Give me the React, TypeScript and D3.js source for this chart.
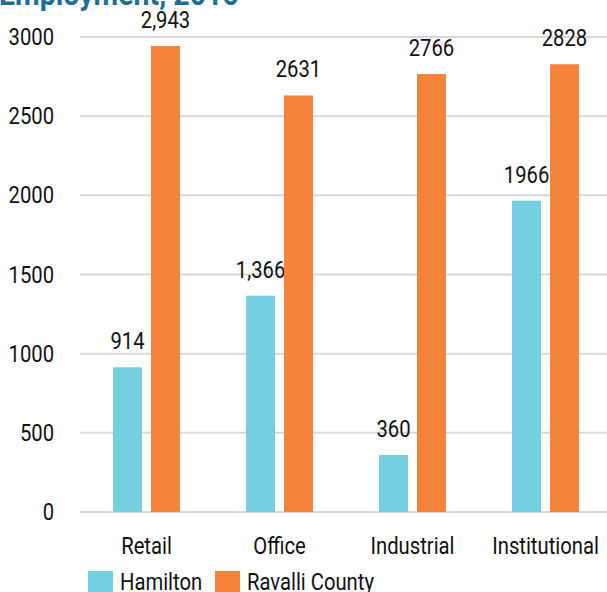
import React from "react";
import * as d3 from "d3";

const categories = ["Retail", "Office", "Industrial", "Institutional"];
const seriesNames = ["Hamilton", "Ravalli County"];
const hamilton = [914, 1366, 360, 1966];
const ravalli = [2943, 2631, 2766, 2828];
const hamiltonLabels = ["914", "1,366", "360", "1966"];
const ravalliLabels = ["2,943", "2631", "2766", "2828"];
const yTicks = [0, 500, 1000, 1500, 2000, 2500, 3000];
const title = "Employment, 2016";

const colors = ["#74CFE0", "#F5843A"];
const FONT = "Roboto, sans-serif";
const SX = 0.88;

function T({ x, y, anchor = "start", children }: { x: number; y: number; anchor?: string; children: React.ReactNode }) {
  return (
    <text transform={`translate(${x},${y}) scale(${SX},1)`} textAnchor={anchor} fontSize={23} fill="#111">
      {children}
    </text>
  );
}

export default function App() {
  const W = 607, H = 592;
  const x0 = d3.scaleBand<string>().domain(categories).range([80, 612]).paddingInner(0).paddingOuter(0);
  const x1 = d3.scaleBand<string>().domain(seriesNames).range([0, x0.bandwidth()]).paddingInner(0.237).paddingOuter(0.87);
  const y = d3.scaleLinear().domain([0, 3000]).range([512, 37]);
  const series = [hamilton, ravalli];
  const labels = [hamiltonLabels, ravalliLabels];
  return (
    <svg width={W} height={H} style={{ position: "absolute", left: 0, top: 0, fontFamily: FONT }}>
      <text transform={`translate(-1,5) scale(0.92,1)`} fontSize={31} fontWeight="bold" fill="#1C6E92">{title}</text>
      {yTicks.map((t) => (
        <g key={t}>
          <line x1={80} x2={W} y1={y(t)} y2={y(t)} stroke="#D9D9D9" strokeWidth={2} />
          <T x={54} y={y(t) + 8} anchor="end">{t}</T>
        </g>
      ))}
      {categories.map((c, i) => (
        <g key={c} transform={`translate(${x0(c)},0)`}>
          {series.map((s, j) => (
            <g key={j}>
              <rect x={x1(seriesNames[j])} y={y(s[i])} width={x1.bandwidth()} height={512 - y(s[i])} fill={colors[j]} />
              <T x={(x1(seriesNames[j]) as number) + x1.bandwidth() / 2} y={y(s[i]) - 18} anchor="middle">{labels[j][i]}</T>
            </g>
          ))}
          <T x={x0.bandwidth() / 2} y={554} anchor="middle">{c}</T>
        </g>
      ))}
      {seriesNames.map((n, j) => {
        const lx = [88, 215][j];
        return (
          <g key={n}>
            <rect x={lx} y={571} width={25} height={21} fill={colors[j]} />
            <T x={lx + 32} y={590}>{n}</T>
          </g>
        );
      })}
    </svg>
  );
}
